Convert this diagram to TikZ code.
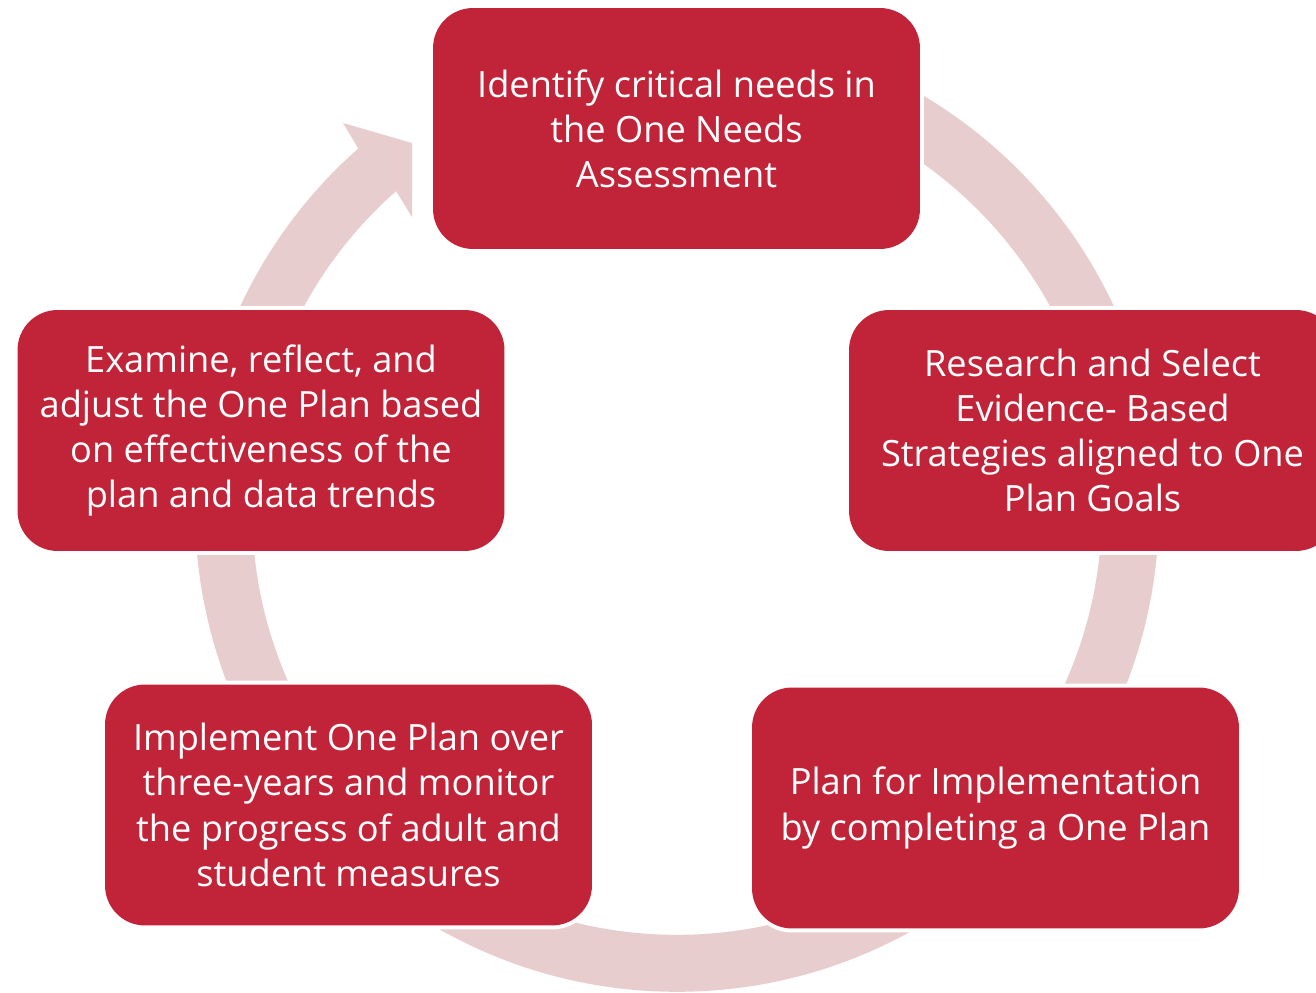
\documentclass[tikz,border=0pt]{standalone}
\usepackage{fontspec}
\setmainfont{Open Sans}
\usetikzlibrary{calc}
\definecolor{boxred}{RGB}{193,36,56}
\definecolor{ringpink}{RGB}{232,205,207}
\begin{document}
\begin{tikzpicture}[x=0.02cm,y=-0.02cm,
  stepbox/.style={rounded corners=0.8cm, fill=boxred, text=white, align=center,
    inner sep=0pt, minimum width=9.74cm, minimum height=4.82cm,
    font=\fontsize{20.6}{25.7}\selectfont,
    preaction={draw=white, line width=0.16cm}},
  ring/.style={draw=ringpink, line width=1.14cm}]
\clip (0,0) rectangle (1316,993);
\coordinate (c) at (677,510);
\coordinate (ringtop) at (677,56.5);
\draw[ring] (ringtop) arc[start angle=90, end angle=-229.2, radius=9.07cm];
\fill[ringpink] (343,123) -- (412,143) -- (412,217) -- (396,191) -- (358,148) -- cycle;

\node[stepbox] (n1) at (676.5,128.5) {Identify critical needs in\\the One Needs\\Assessment};
\node[stepbox] (n2) at (1092.5,430.5) {Research and Select\\Evidence- Based\\Strategies aligned to One\\Plan Goals};
\node[stepbox] (n3) at (995.5,808) {Plan for Implementation\\by completing a One Plan};
\node[stepbox] (n4) at (348.5,805) {Implement One Plan over\\three-years and monitor\\the progress of adult and\\student measures};
\node[stepbox] (n5) at (261,430.5) {Examine, reflect, and\\adjust the One Plan based\\on effectiveness of the\\plan and data trends};
\end{tikzpicture}
\end{document}
